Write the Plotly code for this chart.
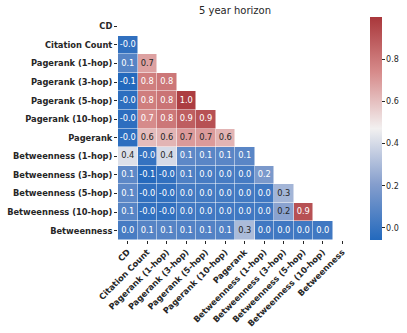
import plotly.graph_objects as go

# variable names (row / column order)
labels = ["CD", "Citation Count", "Pagerank (1-hop)", "Pagerank (3-hop)",
          "Pagerank (5-hop)", "Pagerank (10-hop)", "Pagerank",
          "Betweenness (1-hop)", "Betweenness (3-hop)", "Betweenness (5-hop)",
          "Betweenness (10-hop)", "Betweenness"]

# lower triangle of the correlation matrix, row by row
row_citation = [-0.02]
row_pr1 = [0.08, 0.68]
row_pr3 = [-0.06, 0.78, 0.80]
row_pr5 = [-0.03, 0.78, 0.81, 0.98]
row_pr10 = [-0.03, 0.74, 0.80, 0.88, 0.92]
row_pr = [-0.03, 0.61, 0.63, 0.70, 0.70, 0.63]
row_b1 = [0.42, -0.01, 0.40, 0.10, 0.09, 0.09, 0.09]
row_b3 = [0.10, -0.05, -0.02, 0.06, 0.04, 0.04, 0.04, 0.18]
row_b5 = [0.10, -0.02, -0.02, 0.03, 0.03, 0.03, 0.03, 0.02, 0.28]
row_b10 = [0.08, -0.02, -0.02, 0.02, 0.02, 0.02, 0.02, 0.02, 0.22, 0.92]
row_b = [0.04, 0.08, 0.08, 0.07, 0.07, 0.07, 0.30, 0.02, 0.02, 0.02, 0.02]

lower = [[], row_citation, row_pr1, row_pr3, row_pr5, row_pr10, row_pr,
         row_b1, row_b3, row_b5, row_b10, row_b]

n = len(labels)
z = []
for i in range(n):
    z.append([lower[i][j] if j < i else None for j in range(n)])

# seaborn "vlag"-like colours
vlag = [[0.0, "rgb(35,105,189)"], [0.25, "rgb(133,158,205)"],
        [0.5, "rgb(242,240,240)"], [0.75, "rgb(215,140,140)"],
        [1.0, "rgb(169,55,59)"]]

tx, ty, tt, tc = [], [], [], []
for i in range(n):
    for j in range(i):
        v = lower[i][j]
        tx.append(labels[j])
        ty.append(labels[i])
        tt.append(f"{v:.1f}")
        tc.append("#262626" if 0.2 < v < 0.72 else "white")

fig = go.Figure()
fig.add_trace(go.Heatmap(
    z=z, x=labels, y=labels, colorscale=vlag, zmin=-0.057, zmax=1.0,
    xgap=0.5, ygap=0.5, hoverongaps=False,
    colorbar=dict(x=1.077, xanchor="left", xpad=0, y=0.5, yanchor="middle",
                  ypad=0, len=1.0, lenmode="fraction", thickness=12,
                  outlinewidth=0, tickvals=[0, 0.2, 0.4, 0.6, 0.8],
                  ticktext=["0.0", "0.2", "0.4", "0.6", "0.8"],
                  ticks="outside", ticklen=3, tickcolor="#262626",
                  tickfont=dict(size=8, color="#262626")),
))
fig.add_trace(go.Scatter(
    x=tx, y=ty, text=tt, mode="text", showlegend=False, hoverinfo="skip",
    textfont=dict(size=8.3, color=tc, family="DejaVu Sans"),
))

fig.update_layout(
    width=407, height=333,
    margin=dict(l=118, r=55, t=17, b=93, autoexpand=False),
    paper_bgcolor="white", plot_bgcolor="white",
    font=dict(family="DejaVu Sans", color="#262626"),
    title=dict(text="5 year horizon", x=235 / 407, xanchor="center",
               y=1 - 10 / 333, yanchor="middle",
               font=dict(size=10, color="#262626")),
)
fig.update_xaxes(type="category", categoryorder="array", categoryarray=labels,
                 range=[-0.5, n - 0.5],
                 tickangle=-45, ticks="outside", ticklen=3, tickcolor="#262626",
                 tickfont=dict(size=8.3, family="DejaVu Sans", weight="bold"),
                 showgrid=False, zeroline=False, showline=False)
fig.update_yaxes(type="category", categoryorder="array", categoryarray=labels,
                 range=[n - 0.5, -0.5], ticks="outside", ticklen=3,
                 tickcolor="#262626",
                 tickfont=dict(size=8.3, family="DejaVu Sans", weight="bold"),
                 showgrid=False, zeroline=False, showline=False)

# drop the browser's default 8px page margin so the figure sits at (0, 0)
fig.write_html("out.html", config={"displayModeBar": False},
               post_script="document.body.style.margin = '0';")
